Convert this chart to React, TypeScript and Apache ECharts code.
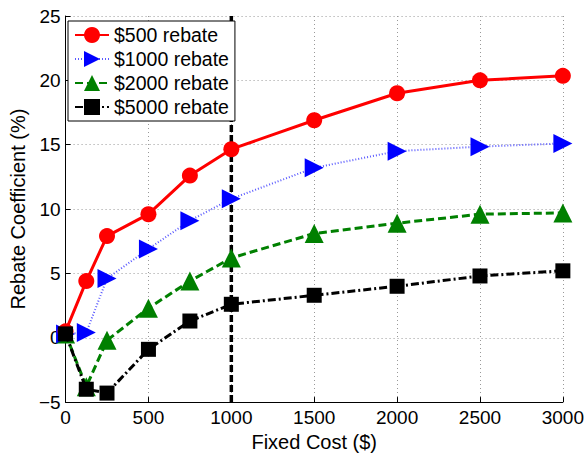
import React, { useEffect, useRef } from "react";
import * as echarts from "echarts";

const xValues = [0, 125, 250, 500, 750, 1000, 1500, 2000, 2500, 3000];
const rebate500 = [0.5, 4.4, 7.9, 9.6, 12.6, 14.65, 16.9, 19.0, 20.0, 20.35];
const rebate1000 = [0.3, 0.4, 4.6, 6.9, 9.1, 10.8, 13.2, 14.5, 14.85, 15.1];
const rebate2000 = [0.3, -3.8, -0.2, 2.3, 4.4, 6.2, 8.1, 8.9, 9.6, 9.7];
const rebate5000 = [0.3, -4.0, -4.3, -0.9, 1.3, 2.6, 3.3, 4.0, 4.8, 5.2];
const seriesNames = ["$500 rebate", "$1000 rebate", "$2000 rebate", "$5000 rebate"];
const cutoffX = 1000;

const FONT = "Liberation Sans, Arial, Helvetica, sans-serif";

function pairs(ys: number[]) {
  return xValues.map((x, i) => [x, ys[i]]);
}

export default function App() {
  const ref = useRef<HTMLDivElement>(null);
  useEffect(() => {
    if (!ref.current) return;
    const chart = echarts.init(ref.current, undefined, { renderer: "svg" });
    chart.setOption({
      animation: false,
      backgroundColor: "#ffffff",
      textStyle: { fontFamily: FONT },
      grid: { left: 62, right: 24, top: 16, bottom: 46, containLabel: false },
      legend: {
        data: seriesNames,
        left: 68,
        top: 21,
        orient: "vertical",
        backgroundColor: "#ffffff",
        borderColor: "#000000",
        borderWidth: 1,
        borderRadius: 0,
        padding: [4, 6, 4, 6],
        itemGap: 4,
        itemWidth: 34,
        itemHeight: 20,
        textStyle: { fontSize: 19.5, color: "#000", fontFamily: FONT },
      },
      xAxis: {
        type: "value",
        min: 0,
        max: 3000,
        interval: 500,
        name: "Fixed Cost ($)",
        nameLocation: "middle",
        nameGap: 25,
        nameTextStyle: { fontSize: 20, color: "#000", fontFamily: FONT },
        axisLine: { show: true, onZero: false, lineStyle: { color: "#000", width: 1 } },
        axisTick: { show: true, inside: true, length: 5, lineStyle: { color: "#000" } },
        axisLabel: {
          fontSize: 19,
          color: "#000",
          margin: 6,
          fontFamily: FONT,
          formatter: (v: number) => String(v),
        },
        splitLine: { show: true, lineStyle: { color: "#999", type: [1, 3], width: 1 } },
      },
      yAxis: {
        type: "value",
        min: -5,
        max: 25,
        interval: 5,
        name: "Rebate Coefficient (%)",
        nameLocation: "middle",
        nameGap: 34,
        nameTextStyle: { fontSize: 20, color: "#000", fontFamily: FONT },
        axisLine: { show: true, onZero: false, lineStyle: { color: "#000", width: 1 } },
        axisTick: { show: true, inside: true, length: 5, lineStyle: { color: "#000" } },
        axisLabel: {
          fontSize: 19,
          color: "#000",
          margin: 5,
          fontFamily: FONT,
          formatter: (v: number) => String(v).replace("-", "\u2212"),
        },
        splitLine: { show: true, lineStyle: { color: "#999", type: [1, 3], width: 1 } },
      },
      series: [
        {
          name: "cutoff",
          type: "line",
          data: [[cutoffX, -5], [cutoffX, 25]],
          showSymbol: false,
          symbol: "none",
          lineStyle: { color: "#000", width: 3.5, type: [7, 3] },
          z: 1,
          silent: true,
        },
        {
          name: seriesNames[0],
          type: "line",
          data: pairs(rebate500),
          symbol: "circle",
          symbolSize: 16,
          itemStyle: { color: "#ff0000" },
          lineStyle: { color: "#ff0000", width: 3, type: "solid" },
          z: 5,
        },
        {
          name: seriesNames[1],
          type: "line",
          data: pairs(rebate1000),
          symbol: "triangle",
          symbolRotate: -90,
          symbolSize: 19,
          itemStyle: { color: "#0000ff" },
          lineStyle: { color: "#5a5aff", width: 2, type: [1, 2] },
          z: 4,
        },
        {
          name: seriesNames[2],
          type: "line",
          data: pairs(rebate2000),
          symbol: "triangle",
          symbolSize: 19,
          itemStyle: { color: "#008000" },
          lineStyle: { color: "#008000", width: 3, type: [8, 4] },
          z: 3,
        },
        {
          name: seriesNames[3],
          type: "line",
          data: pairs(rebate5000),
          symbol: "rect",
          symbolSize: 15,
          itemStyle: { color: "#000000" },
          lineStyle: { color: "#000000", width: 3, type: [8, 3, 2, 3] },
          z: 6,
        },
      ],
    });
    return () => chart.dispose();
  }, []);
  return <div ref={ref} style={{ width: 587, height: 457, position: "absolute", left: 0, top: 0 }} />;
}
